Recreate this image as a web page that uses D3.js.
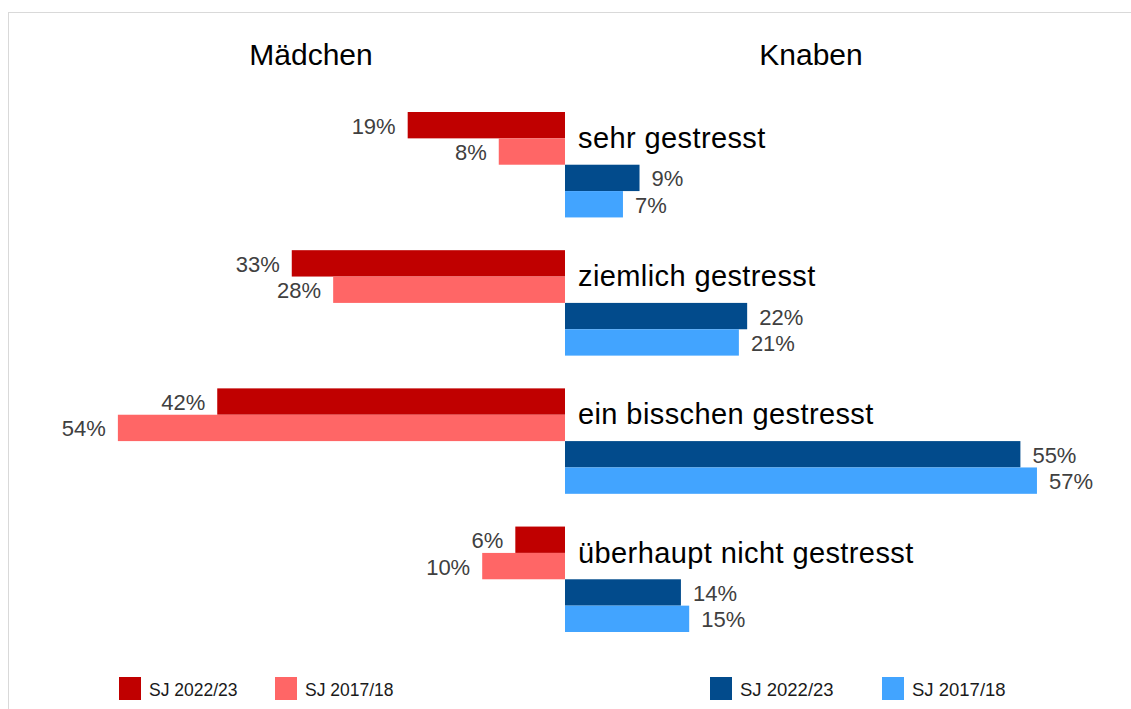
<!DOCTYPE html>
<html>
<head>
<meta charset="utf-8">
<script src="https://cdn.jsdelivr.net/npm/d3@7"></script>
<style>
  body { margin: 0; background: #fff; }
  svg { display: block; font-family: "Liberation Sans", Arial, sans-serif; }
</style>
</head>
<body>
<svg id="chart"></svg>
<script>
// categories, top to bottom
const categories = [
  "sehr gestresst",
  "ziemlich gestresst",
  "ein bisschen gestresst",
  "überhaupt nicht gestresst"
];

// percentages per series
const maedchen2022 = [19, 33, 42, 6];
const maedchen2017 = [8, 28, 54, 10];
const knaben2022 = [9, 22, 55, 14];
const knaben2017 = [7, 21, 57, 15];

const seriesNames = ["m22", "m17", "k22", "k17"];
const seriesColors = ["#c00000", "#ff6666", "#024b8c", "#42a4ff"];
const legendLabels = ["SJ 2022/23", "SJ 2017/18", "SJ 2022/23", "SJ 2017/18"];

const config = {
  width: 1131,
  height: 709,
  center: 565,
  pxPerPct: 8.28,
  top: 112,
  bottom: 632
};

const svg = d3.select("#chart")
  .attr("width", config.width)
  .attr("height", config.height);

// light frame (only top and left edges are visible)
svg.append("rect")
  .attr("x", 8.5)
  .attr("y", 12.5)
  .attr("width", 1300)
  .attr("height", 900)
  .attr("fill", "none")
  .attr("stroke", "#d9d9d9");

// x: signed percentage, negative = Mädchen (left)
const x = d3.scaleLinear()
  .domain([-60, 60])
  .range([config.center - 60 * config.pxPerPct, config.center + 60 * config.pxPerPct]);

const y = d3.scaleBand()
  .domain(categories)
  .range([config.top, config.bottom])
  .paddingInner(0.237)
  .paddingOuter(0);

const ySub = d3.scaleBand()
  .domain(seriesNames)
  .range([0, y.bandwidth()]);

// flat table built from the arrays
const rows = [];
categories.forEach((c, i) => {
  rows.push({ cat: c, s: "m22", v: maedchen2022[i], side: -1 });
  rows.push({ cat: c, s: "m17", v: maedchen2017[i], side: -1 });
  rows.push({ cat: c, s: "k22", v: knaben2022[i], side: 1 });
  rows.push({ cat: c, s: "k17", v: knaben2017[i], side: 1 });
});

const color = d3.scaleOrdinal().domain(seriesNames).range(seriesColors);

// headers
svg.append("text")
  .attr("x", 311)
  .attr("y", 65)
  .attr("text-anchor", "middle")
  .attr("font-size", 30)
  .attr("fill", "#000")
  .text("Mädchen");

svg.append("text")
  .attr("x", 811)
  .attr("y", 65)
  .attr("text-anchor", "middle")
  .attr("font-size", 30)
  .attr("fill", "#000")
  .text("Knaben");

// bars
svg.append("g")
  .selectAll("rect")
  .data(rows)
  .enter()
  .append("rect")
  .attr("x", d => d.side < 0 ? x(-d.v) : x(0))
  .attr("y", d => y(d.cat) + ySub(d.s))
  .attr("width", d => Math.abs(x(d.v) - x(0)))
  .attr("height", ySub.bandwidth())
  .attr("fill", d => color(d.s));

// value labels
svg.append("g")
  .selectAll("text")
  .data(rows)
  .enter()
  .append("text")
  .attr("x", d => d.side < 0 ? x(-d.v) - 12 : x(d.v) + 12)
  .attr("y", d => y(d.cat) + ySub(d.s) + ySub.bandwidth() / 2 + 8.5)
  .attr("text-anchor", d => d.side < 0 ? "end" : "start")
  .attr("font-size", 22)
  .attr("fill", "#404040")
  .text(d => d.v + "%");

// category labels
svg.append("g")
  .selectAll("text")
  .data(categories)
  .enter()
  .append("text")
  .attr("x", x(0) + 13)
  .attr("y", d => y(d) + 36)
  .attr("font-size", 29)
  .attr("letter-spacing", 0.4)
  .attr("fill", "#000")
  .text(d => d);

// legend
const legendX = [119, 275, 710, 882];
const legend = svg.append("g")
  .selectAll("g")
  .data(seriesNames)
  .enter()
  .append("g")
  .attr("transform", (d, i) => "translate(" + legendX[i] + ",677)");

legend.append("rect")
  .attr("width", 22)
  .attr("height", 23)
  .attr("fill", d => color(d));

legend.append("text")
  .attr("x", 30)
  .attr("y", 19)
  .attr("font-size", (d, i) => i < 2 ? 17.5 : 18.5)
  .attr("fill", "#1a1a1a")
  .text((d, i) => legendLabels[i]);
</script>
</body>
</html>
